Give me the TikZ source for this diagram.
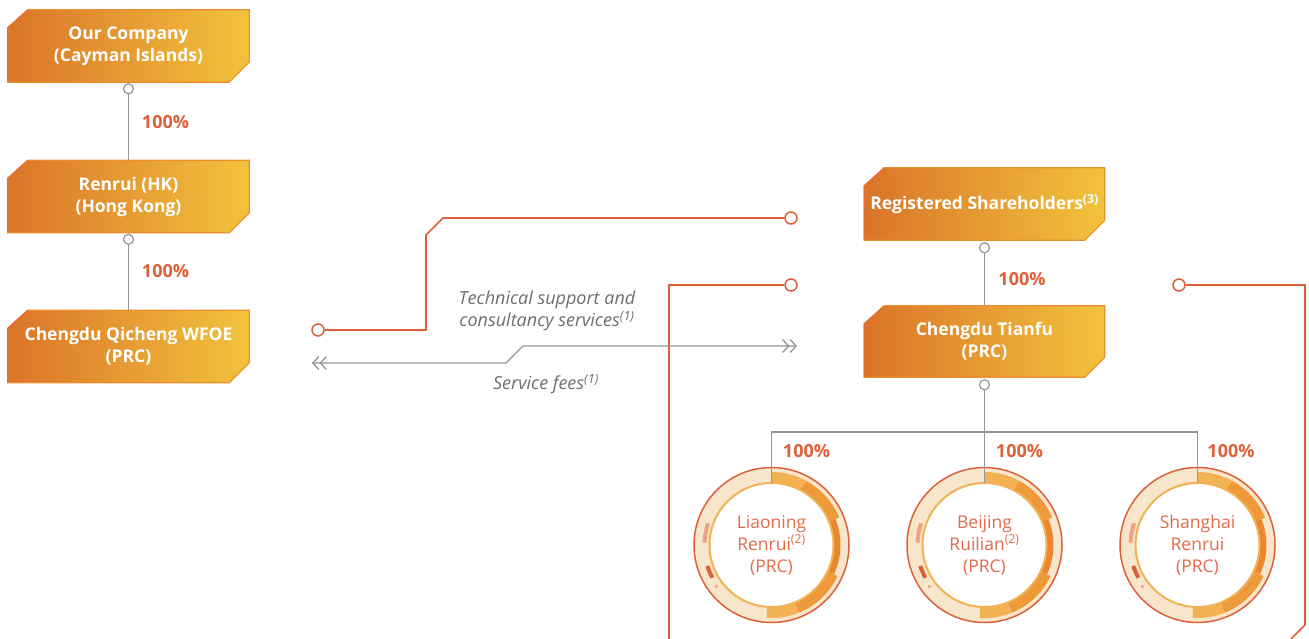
\documentclass[tikz,border=0pt]{standalone}
\usepackage{fontspec}
\setmainfont{Open Sans}
\usetikzlibrary{arrows.meta,backgrounds,positioning}

\definecolor{boxleft}{HTML}{DA7429}
\definecolor{boxright}{HTML}{F2C33C}
\definecolor{boxedge}{HTML}{EE8D2E}
\definecolor{boxleftedge}{HTML}{EB6B2C}
\definecolor{accent}{HTML}{DE5F38}
\definecolor{linkgray}{HTML}{939598}
\definecolor{textgray}{HTML}{6D6E71}
\definecolor{cream}{HTML}{F8E6CC}
\definecolor{ringlight}{HTML}{F2B152}
\definecolor{ringmid}{HTML}{EE9A3B}
\definecolor{ringdark}{HTML}{EA862D}
\definecolor{salmon}{HTML}{EFA184}
\definecolor{circtext}{HTML}{E2694A}

\tikzset{
  entity/.style={minimum width=241pt, minimum height=72pt, inner sep=0pt, align=center,
    text=white, font=\fontsize{17.5}{22}\selectfont\bfseries},
  joint/.style={circle, draw=linkgray, fill=white, line width=1.2pt, minimum size=10pt, inner sep=0pt},
  endring/.style={circle, draw=accent, fill=white, line width=1.5pt, minimum size=12pt, inner sep=0pt},
  link/.style={draw=linkgray, line width=1.6pt},
  frame/.style={draw=accent, line width=1.7pt},
  pct/.style={text=accent, font=\fontsize{18}{20}\selectfont\bfseries},
  sub/.style={circle, minimum size=124pt, inner sep=0pt, align=center, text=circtext,
    font=\fontsize{17.5}{22}\selectfont},
  flow/.style={text=textgray, align=center, font=\fontsize{18}{22}\selectfont\itshape},
}

\begin{document}
\begin{tikzpicture}[x=1pt,y=1pt]
  \useasboundingbox (0,0) rectangle (1309,-639);

  % entities
  \node[entity] (co) at (128.5,-46) {Our Company\\(Cayman Islands)};
  \node[entity] (hk) at (128.5,-196.5) {Renrui (HK)\\(Hong Kong)};
  \node[entity] (wfoe) at (128.5,-346.5) {Chengdu Qicheng WFOE\\(PRC)};
  \node[entity, minimum width=240pt] (holders) at (984.5,-204) {Registered Shareholders\textsuperscript{(3)}};
  \node[entity, minimum width=240pt, minimum height=71pt] (tianfu) at (984.5,-341.5) {Chengdu Tianfu\\(PRC)};

  \node[sub] (liaoning) at (771.5,-545) {Liaoning\\Renrui\textsuperscript{(2)}\\(PRC)};
  \node[sub] (beijing) at (984.5,-545) {Beijing\\Ruilian\textsuperscript{(2)}\\(PRC)};
  \node[sub] (shanghai) at (1197.5,-545) {Shanghai\\Renrui\\(PRC)};

  % box shapes and rings
  \begin{scope}[on background layer]
    \foreach \b in {co,hk,wfoe,holders,tianfu}{
      \draw[draw=boxedge, line width=1.2pt, left color=boxleft, right color=boxright]
        ([yshift=-18pt]\b.north west) -- ([xshift=20pt]\b.north west) -- (\b.north east)
        -- ([yshift=20pt]\b.south east) -- ([xshift=-20pt]\b.south east) -- (\b.south west) -- cycle;
      \draw[boxleftedge, line width=1.2pt] (\b.south west) -- ([yshift=-18pt]\b.north west)
        -- ([xshift=20pt]\b.north west);
    }
    \foreach \c in {liaoning,beijing,shanghai}{
      \fill[cream, even odd rule] (\c.center) circle (77pt) circle (62pt);
      \draw[accent, line width=1.5pt] (\c.center) circle (77.5pt);
      \draw[ringlight, line width=11pt] (\c.center) ++(90:67.5pt) arc[start angle=90, end angle=62, radius=67.5pt];
      \draw[ringmid, line width=11pt] (\c.center) ++(62:67.5pt) arc[start angle=62, end angle=22, radius=67.5pt];
      \draw[ringdark, line width=7pt] (\c.center) ++(22:65.5pt) arc[start angle=22, end angle=-25, radius=65.5pt];
      \draw[ringmid, line width=11pt] (\c.center) ++(-25:67.5pt) arc[start angle=-25, end angle=-68, radius=67.5pt];
      \draw[ringlight, line width=11pt] (\c.center) ++(-68:67.5pt) arc[start angle=-68, end angle=-94, radius=67.5pt];
      \draw[salmon, line width=4pt] (\c.center) ++(161:67pt) arc[start angle=161, end angle=178, radius=67pt];
      \draw[accent, line width=4pt] (\c.center) ++(198:67.5pt) arc[start angle=198, end angle=209, radius=67.5pt];
      \fill[salmon] (\c.center) ++(217:69pt) circle (1.8pt);
      \draw[ringlight, line width=2pt] (\c.center) circle (62pt);
    }
  \end{scope}

  % ownership links
  \node[joint, below=1pt of co] (co-j) {};
  \node[joint, below=1pt of hk] (hk-j) {};
  \node[joint, below=2pt of holders] (holders-j) {};
  \node[joint, below=2pt of tianfu] (tianfu-j) {};
  \draw[link] (co-j) -- (hk);
  \draw[link] (hk-j) -- (wfoe);
  \draw[link] (holders-j) -- (tianfu);
  \draw[link] (tianfu-j) -- (beijing);
  \coordinate (bar) at (984.5,-432);
  \draw[link] (liaoning) |- (bar) -| (shanghai);

  \node[pct] at (165.5,-122) {100\%};
  \node[pct] at (165.5,-271) {100\%};
  \node[pct] at (1022,-279) {100\%};
  \node[pct] at (806.5,-451) {100\%};
  \node[pct] at (1019.5,-451) {100\%};
  \node[pct] at (1231,-451) {100\%};

  % contractual arrangements
  \node[endring] (wfoe-end) at (318,-330) {};
  \node[endring] (top-end) at (791,-218) {};
  \node[endring] (mid-end) at (791,-285) {};
  \node[endring] (right-end) at (1179,-285) {};
  \coordinate (left-foot) at (669,-639);
  \coordinate (right-foot) at (1291,-639);
  \draw[frame] (wfoe-end) -- (426,-330) -- (426,-235) -- (443,-218) -- (top-end);
  \draw[frame] (mid-end) -| (left-foot);
  \draw[frame] (right-end) -- (1305,-285) -- (1305,-625) -- (right-foot);

  % flows
  \coordinate (fee-tip) at (312,-363);
  \coordinate (svc-tip) at (797,-346);
  \draw[link, line width=1.3pt, >={Straight Barb[length=6pt,width=13pt]}, <<->>]
    (fee-tip) -- (506,-363) -- (523,-346) -- (svc-tip);
  \node[flow] (svc) at (547,-311) {Technical support and\\consultancy services\textsuperscript{(1)}};
  \node[flow] (fee) at (546,-384) {Service fees\textsuperscript{(1)}};
\end{tikzpicture}
\end{document}
